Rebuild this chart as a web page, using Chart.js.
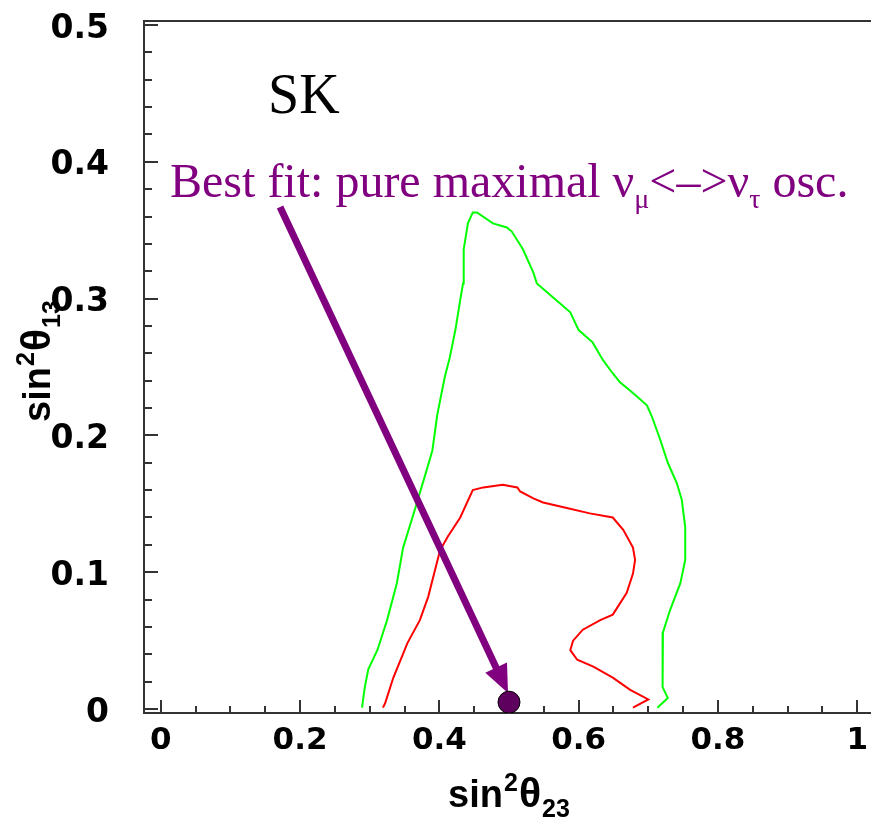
<!DOCTYPE html>
<html>
<head>
<meta charset="utf-8">
<title>SK sin2theta13 vs sin2theta23</title>
<script src="https://cdn.jsdelivr.net/npm/chart.js@4.4.1/dist/chart.umd.min.js"></script>
<style>
  html, body { margin: 0; padding: 0; background: #fff; }
  #chart { display: block; }
</style>
</head>
<body>
<canvas id="chart" width="871" height="820"></canvas>
<script>
// outer (green) allowed region
var greenS23 = [0.289, 0.293, 0.298, 0.311, 0.325, 0.339, 0.348, 0.365, 0.382, 0.390,
                0.397, 0.404, 0.408, 0.415, 0.423, 0.430, 0.434, 0.435, 0.441, 0.448,
                0.454, 0.477, 0.497, 0.504, 0.520, 0.535, 0.540, 0.563, 0.588, 0.600,
                0.620, 0.635, 0.648, 0.659, 0.678, 0.698, 0.705, 0.717, 0.728, 0.741,
                0.748, 0.753, 0.753, 0.746, 0.731, 0.721, 0.720, 0.721, 0.728, 0.713];
var greenS13 = [0.001, 0.016, 0.029, 0.043, 0.065, 0.092, 0.118, 0.146, 0.175, 0.189,
                0.215, 0.233, 0.243, 0.257, 0.277, 0.299, 0.311, 0.336, 0.355, 0.363,
                0.363, 0.355, 0.352, 0.349, 0.336, 0.319, 0.311, 0.301, 0.290, 0.277,
                0.268, 0.255, 0.246, 0.239, 0.231, 0.222, 0.214, 0.197, 0.180, 0.165,
                0.153, 0.133, 0.109, 0.092, 0.072, 0.056, 0.036, 0.016, 0.008, 0.001];

// inner (red) allowed region
var redS23 = [0.319, 0.322, 0.334, 0.346, 0.354, 0.372, 0.384, 0.394, 0.401, 0.412,
              0.430, 0.448, 0.463, 0.491, 0.512, 0.516, 0.535, 0.549, 0.583, 0.616,
              0.649, 0.664, 0.678, 0.681, 0.678, 0.669, 0.649, 0.631, 0.606, 0.592,
              0.588, 0.598, 0.621, 0.649, 0.674, 0.700, 0.678];
var redS13 = [0.001, 0.004, 0.023, 0.038, 0.048, 0.065, 0.082, 0.102, 0.116, 0.126,
              0.140, 0.160, 0.162, 0.164, 0.162, 0.159, 0.154, 0.151, 0.147, 0.143,
              0.140, 0.131, 0.118, 0.109, 0.099, 0.085, 0.069, 0.065, 0.058, 0.050,
              0.043, 0.036, 0.031, 0.023, 0.014, 0.007, 0.001];

// best fit point
var bestFitS23 = [0.5];
var bestFitS13 = [0.005];

var xTickValues = [0, 0.2, 0.4, 0.6, 0.8, 1];
var yTickValues = [0, 0.1, 0.2, 0.3, 0.4, 0.5];

function toPoints(xs, ys) {
  return xs.map(function(x, i) { return { x: x, y: ys[i] }; });
}

function fmtTick(v) {
  return String(Math.round(v * 10) / 10);
}

var PURPLE = '#800080';

// annotations, in axis units
var notes = {
  sk: { x: 0.154, y: 0.4357, text: 'SK' },
  fit: { x: 0.0134, y: 0.374 },
  arrow: { x1: 0.1713, y1: 0.367, x2: 0.4986, y2: 0.0117 }
};

function drawRich(ctx, x, y, parts, align) {
  var total = 0;
  parts.forEach(function(p) { ctx.font = p.font; total += ctx.measureText(p.text).width + (p.gap || 0); });
  if (align === 'center') x -= total / 2;
  parts.forEach(function(p) {
    ctx.font = p.font;
    ctx.fillText(p.text, x, y + (p.dy || 0));
    x += ctx.measureText(p.text).width + (p.gap || 0);
  });
}

function titleParts(sub) {
  var big = 'bold 38px "Liberation Sans", Arial, sans-serif';
  var theta = 'bold 41px "Liberation Sans", Arial, sans-serif';
  var small = 'bold 25px "Liberation Sans", Arial, sans-serif';
  return [
    { text: 'sin', font: big, gap: 1 },
    { text: '2', font: small, dy: -16, gap: 1 },
    { text: '\u03b8', font: theta, gap: 1 },
    { text: sub, font: small, dy: 10 }
  ];
}

// keep the plot frame where the axes put it, no room for label overhang
function noPadding(s) {
  s.paddingTop = 0;
  s.paddingBottom = 0;
  s.paddingLeft = 0;
  s.paddingRight = 0;
}

var decor = {
  id: 'decor',
  beforeDatasetsDraw: function(chart) {
    var ctx = chart.ctx, a = chart.chartArea;
    var xs = chart.scales.x, ys = chart.scales.y;
    ctx.save();
    ctx.strokeStyle = '#333';
    ctx.lineWidth = 2;
    ctx.beginPath();
    ctx.moveTo(a.right, a.top);
    ctx.lineTo(a.left, a.top);
    ctx.lineTo(a.left, a.bottom);
    ctx.lineTo(a.right, a.bottom);
    ctx.stroke();

    // inward ticks
    ctx.beginPath();
    for (var i = 0; i <= 20; i++) {
      var px = Math.round(xs.getPixelForValue(i * 0.05));
      var len = (i % 4 === 0) ? 13 : 7;
      ctx.moveTo(px, a.bottom);
      ctx.lineTo(px, a.bottom - len);
    }
    for (var j = 0; j <= 25; j++) {
      var py = Math.round(ys.getPixelForValue(j * 0.02));
      var ln = (j % 5 === 0) ? 14 : 8;
      ctx.moveTo(a.left, py);
      ctx.lineTo(a.left + ln, py);
    }
    ctx.stroke();
    ctx.restore();
  },
  afterDatasetDraw: function(chart, args) {
    if (args.index !== 1) return;
    var ctx = chart.ctx, xs = chart.scales.x, ys = chart.scales.y;
    var ar = notes.arrow;
    var x1 = xs.getPixelForValue(ar.x1), y1 = ys.getPixelForValue(ar.y1);
    var x2 = xs.getPixelForValue(ar.x2), y2 = ys.getPixelForValue(ar.y2);
    var ang = Math.atan2(y2 - y1, x2 - x1);
    var head = 28, half = 12;
    var bx = x2 - head * Math.cos(ang), by = y2 - head * Math.sin(ang);
    ctx.save();
    ctx.strokeStyle = PURPLE;
    ctx.fillStyle = PURPLE;
    ctx.lineWidth = 7;
    ctx.beginPath();
    ctx.moveTo(x1, y1);
    ctx.lineTo(bx + 2 * Math.cos(ang), by + 2 * Math.sin(ang));
    ctx.stroke();
    ctx.beginPath();
    ctx.moveTo(x2, y2);
    ctx.lineTo(bx + half * Math.sin(ang), by - half * Math.cos(ang));
    ctx.lineTo(bx - half * Math.sin(ang), by + half * Math.cos(ang));
    ctx.closePath();
    ctx.fill();
    ctx.restore();
  },
  afterDraw: function(chart) {
    var ctx = chart.ctx;
    var xs = chart.scales.x, ys = chart.scales.y;
    ctx.save();
    ctx.textBaseline = 'alphabetic';
    ctx.textAlign = 'left';

    // axis titles
    ctx.fillStyle = '#000';
    drawRich(ctx, xs.getPixelForValue(0.5), 807, titleParts('23'), 'center');
    ctx.save();
    ctx.translate(50, 361);
    ctx.rotate(-Math.PI / 2);
    drawRich(ctx, 0, 0, titleParts('13'), 'center');
    ctx.restore();

    // experiment label
    ctx.font = '56px "Liberation Serif", "Times New Roman", serif';
    ctx.fillText(notes.sk.text, xs.getPixelForValue(notes.sk.x), ys.getPixelForValue(notes.sk.y));

    // best fit caption
    var serif = '"Liberation Serif", "Times New Roman", serif';
    ctx.fillStyle = PURPLE;
    drawRich(ctx, xs.getPixelForValue(notes.fit.x), ys.getPixelForValue(notes.fit.y), [
      { text: 'Best fit: pure maximal \u03bd', font: '48px ' + serif },
      { text: '\u03bc', font: '28px ' + serif, dy: 11 },
      { text: '<\u2013>\u03bd', font: '48px ' + serif },
      { text: '\u03c4', font: '28px ' + serif, dy: 11 },
      { text: ' osc.', font: '48px ' + serif }
    ]);
    ctx.restore();
  }
};

var tickFontX = { family: 'DejaVu Sans', weight: 'bold', size: 31 };
var tickFontY = { family: 'DejaVu Sans', weight: 'bold', size: 33 };

new Chart(document.getElementById('chart'), {
  type: 'scatter',
  data: {
    datasets: [
      {
        label: 'best fit',
        data: toPoints(bestFitS23, bestFitS13),
        pointRadius: 11,
        pointHoverRadius: 11,
        backgroundColor: '#5e005e',
        borderColor: '#000',
        borderWidth: 1
      },
      {
        label: 'outer',
        data: toPoints(greenS23, greenS13),
        showLine: true,
        pointRadius: 0,
        borderColor: '#00ff00',
        borderWidth: 2,
        tension: 0
      },
      {
        label: 'inner',
        data: toPoints(redS23, redS13),
        showLine: true,
        pointRadius: 0,
        borderColor: '#ff0000',
        borderWidth: 2,
        tension: 0
      }
    ]
  },
  options: {
    responsive: false,
    animation: false,
    events: [],
    layout: { autoPadding: false, padding: { top: 21, right: 0, left: 0, bottom: 0 } },
    plugins: {
      legend: { display: false },
      tooltip: { enabled: false }
    },
    scales: {
      x: {
        type: 'linear',
        min: -0.024,
        max: 1.0197,
        afterBuildTicks: function(s) { s.ticks = xTickValues.map(function(v) { return { value: v }; }); },
        afterFit: function(s) { s.height = 107; noPadding(s); },
        grid: { display: false, drawTicks: false },
        border: { display: false },
        ticks: {
          autoSkip: false,
          maxRotation: 0,
          padding: 9,
          color: '#000',
          font: tickFontX,
          callback: fmtTick
        }
      },
      y: {
        type: 'linear',
        min: -0.0029,
        max: 0.5029,
        afterBuildTicks: function(s) { s.ticks = yTickValues.map(function(v) { return { value: v }; }); },
        afterFit: function(s) { s.width = 144; noPadding(s); },
        grid: { display: false, drawTicks: false },
        border: { display: false },
        ticks: {
          autoSkip: false,
          padding: 35,
          labelOffset: 4,
          color: '#000',
          font: tickFontY,
          callback: fmtTick
        }
      }
    }
  },
  plugins: [decor]
});
</script>
</body>
</html>
